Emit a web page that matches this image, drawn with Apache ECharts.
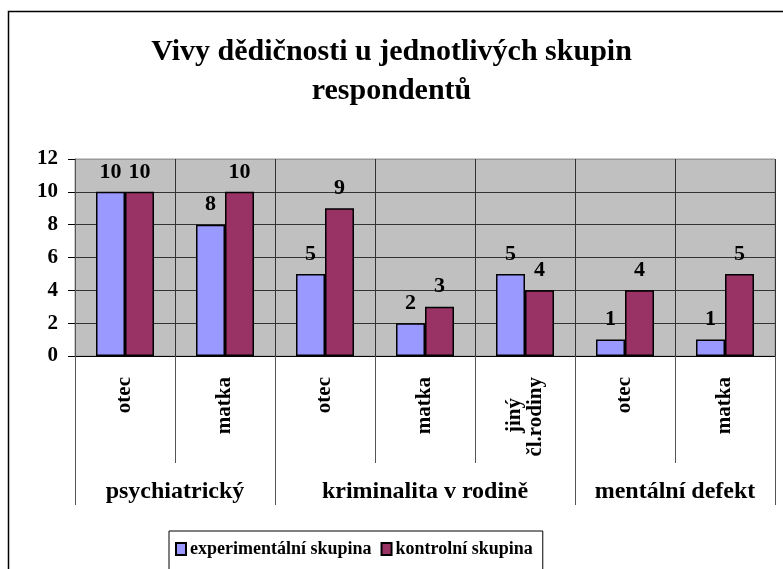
<!DOCTYPE html>
<html>
<head>
<meta charset="utf-8">
<script src="https://cdn.jsdelivr.net/npm/echarts@6/dist/echarts.min.js"></script>
<style>
	html, body { margin: 0; padding: 0; background: #fff; }
	#chart { width: 783px; height: 569px; }
</style>
</head>
<body>
<div id="chart"></div>
<script>
// data
var categories = ['otec', 'matka', 'otec', 'matka', 'jiný\nčl.rodiny', 'otec', 'matka'];
var groupNames = ['psychiatrický', 'kriminalita v rodině', 'mentální defekt'];
var groupSizes = [2, 3, 2];
var experimental = [10, 8, 5, 2, 5, 1, 1];
var control = [10, 10, 9, 3, 4, 4, 5];
var seriesNames = ['experimentální skupina', 'kontrolní skupina'];
var yMin = 0, yMax = 12, yStep = 2;

var font = '"Liberation Serif", "Times New Roman", serif';
var catFontSize = 21;

// group boundaries and centres on a 0..n scale
var groupBounds = [0];
var groupCenters = [];
groupSizes.forEach(function(s) {
	var start = groupBounds[groupBounds.length - 1];
	groupCenters.push(start + s / 2);
	groupBounds.push(start + s);
});

// centre the lines of a multi-line category label (pad with nbsp)
var measureCtx = document.createElement('canvas').getContext('2d');
measureCtx.font = 'bold ' + catFontSize + 'px ' + font;
function centerLines(v) {
	var lines = v.split('\n');
	if (lines.length < 2) return v;
	var widths = lines.map(function(s) { return measureCtx.measureText(s).width; });
	var maxW = Math.max.apply(null, widths);
	var sp = measureCtx.measureText('\u00a0').width;
	return lines.map(function(s, i) {
		var n = Math.round((maxW - widths[i]) / 2 / sp);
		return s + new Array(n + 1).join('\u00a0');
	}).join('\n');
}

var myChart = echarts.init(document.getElementById('chart'));

function barSeries(name, data, color) {
	return {
		name: name,
		type: 'bar',
		data: data,
		barWidth: 29,
		barGap: '0%',
		itemStyle: { color: color, borderColor: '#000', borderWidth: 1.5 },
		label: {
			show: true,
			position: 'top',
			distance: 9,
			color: '#000',
			fontFamily: font,
			fontWeight: 'bold',
			fontSize: 22
		}
	};
}

var option = {
	animation: false,
	title: {
		text: 'Vivy dědičnosti u jednotlivých skupin\nrespondentů',
		left: 'center',
		top: 28,
		textStyle: {
			fontFamily: font,
			fontWeight: 'bold',
			fontSize: 30,
			lineHeight: 39,
			color: '#000'
		}
	},
	graphic: [{
		type: 'rect',
		shape: { x: 8.5, y: 11.5, width: 800, height: 600 },
		style: { fill: 'none', stroke: '#000', lineWidth: 1.5 },
		silent: true
	}],
	legend: {
		data: seriesNames,
		left: 169,
		top: 531,
		orient: 'horizontal',
		itemWidth: 10,
		itemHeight: 12,
		itemGap: 9,
		padding: [9, 10, 20, 6],
		borderColor: '#000',
		borderWidth: 1,
		icon: 'rect',
		textStyle: {
			fontFamily: font,
			fontWeight: 'bold',
			fontSize: 18,
			color: '#000',
			padding: [0, 0, 0, -1]
		}
	},
	grid: {
		left: 75,
		right: 8,
		top: 159,
		bottom: 213,
		show: true,
		backgroundColor: '#c0c0c0',
		borderColor: '#999',
		borderWidth: 1
	},
	xAxis: [{
		type: 'category',
		data: categories,
		position: 'bottom',
		axisLine: { lineStyle: { color: '#000', width: 1 } },
		axisTick: { show: true, interval: 0, length: 107, lineStyle: { color: '#555' } },
		splitLine: { show: true, interval: 0, lineStyle: { color: '#333', width: 1 } },
		axisLabel: {
			interval: 0,
			rotate: 90,
			margin: 21,
			color: '#000',
			fontFamily: font,
			fontWeight: 'bold',
			fontSize: catFontSize,
			lineHeight: 21,
			formatter: centerLines
		}
	}, {
		type: 'value',
		position: 'bottom',
		min: 0,
		max: categories.length,
		axisLine: { show: false },
		splitLine: { show: false },
		axisTick: {
			show: true,
			customValues: groupBounds,
			length: 149,
			lineStyle: { color: '#555' }
		},
		axisLabel: {
			customValues: groupCenters,
			margin: 124,
			color: '#000',
			fontFamily: font,
			fontWeight: 'bold',
			fontSize: 24,
			formatter: function(v) {
				var i = groupCenters.indexOf(v);
				return i >= 0 ? groupNames[i] : '';
			}
		}
	}],
	yAxis: {
		type: 'value',
		min: yMin,
		max: yMax,
		interval: yStep,
		axisLine: { show: true, lineStyle: { color: '#555' } },
		axisTick: { show: true, length: 7, lineStyle: { color: '#000' } },
		splitLine: { lineStyle: { color: ['#333', '#333', '#333', '#333', '#333', '#333', '#999'] } },
		axisLabel: {
			margin: 17,
			color: '#000',
			fontFamily: font,
			fontWeight: 'bold',
			fontSize: 21
		}
	},
	series: [
		barSeries(seriesNames[0], experimental, '#9999ff'),
		barSeries(seriesNames[1], control, '#993366')
	]
};
myChart.setOption(option);
</script>
</body>
</html>
